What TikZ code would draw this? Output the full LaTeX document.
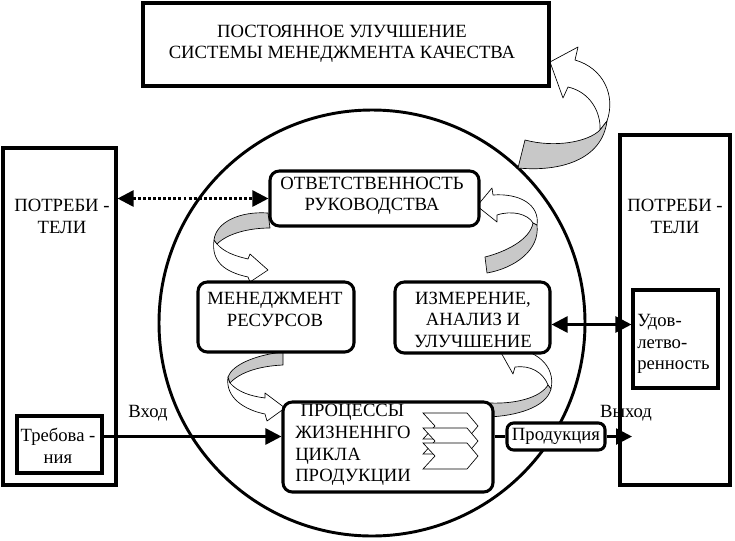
\documentclass[tikz,border=0pt]{standalone}
\usepackage{fontspec}
\setmainfont{Liberation Serif}
\usetikzlibrary{arrows.meta}
\definecolor{ribbon}{RGB}{200,200,200}
\begin{document}
\begin{tikzpicture}[x=0.75pt,y=-0.75pt,
  font=\fontsize{14}{16.2}\selectfont,
  box/.style={draw,line width=2.3pt,fill=white,inner sep=0pt},
  rbox/.style={box,rounded corners=7pt},
  txt/.style={inner sep=0pt,align=center},
  ltxt/.style={inner sep=0pt,align=left,anchor=west},
  ribW/.style={draw,line width=0.5pt,fill=white,line join=round},
  ribG/.style={draw,line width=0.5pt,fill=ribbon,line join=round},
  chev/.style={draw,line width=0.5pt,fill=white},
  conn/.style={line width=2pt},
  tri/.tip={Triangle[length=12pt,width=12pt]},
  dotline/.style={conn,dash pattern=on 2.2pt off 1.6pt}
]
\useasboundingbox (0,0) rectangle (735,540);

% big circle
\draw[line width=2.2pt] (372,323) circle [radius=213];

% ribbon arrows
% 1: to top box
\path[ribW] (600,130) .. controls (601,112) and (590,92) .. (568,87) -- (563,98) -- (550,62) -- (578,47) -- (575,60) .. controls (603,68) and (616,95) .. (607,121) -- cycle;
\path[ribG] (525,140) .. controls (555,148) and (588,142) .. (600,130) -- (607,121) .. controls (602,160) and (560,172) .. (518,168) -- cycle;
% 2: responsibility -> resources
\path[ribW] (217,244) .. controls (224,252) and (235,256) .. (248,259) -- (250,254) -- (268,270) -- (250,282) -- (248,277) .. controls (225,272) and (211,262) .. (214,240) -- cycle;
\path[ribG] (268,213) .. controls (240,211) and (216,222) .. (214,240) -- (217,244) .. controls (228,233) and (250,228) .. (270,228) -- cycle;
% 3: measurement -> responsibility
\path[ribW] (533,223) .. controls (528,214) and (512,210) .. (497,215) -- (497,222) -- (477,206) -- (492,188) -- (493,195) .. controls (520,193) and (540,205) .. (537,225) -- cycle;
\path[ribG] (485,257) .. controls (505,252) and (530,240) .. (533,223) -- (537,225) .. controls (540,250) and (515,268) .. (487,273) -- cycle;
% 4: resources -> processes
\path[ribW] (230,383) .. controls (238,392) and (250,396) .. (265,398) -- (265,393) -- (285,408) -- (267,421) -- (265,414) .. controls (245,410) and (225,398) .. (228,377) -- cycle;
\path[ribG] (283,352) .. controls (255,355) and (232,365) .. (228,377) -- (230,383) .. controls (240,372) and (260,366) .. (283,365) -- cycle;
% 5: processes -> measurement
\path[ribW] (548,385) .. controls (543,372) and (530,365) .. (515,367) -- (513,374) -- (499,349) -- (510,341) -- (512,348) .. controls (535,350) and (556,365) .. (551,389) -- cycle;
\path[ribG] (490,403) .. controls (515,404) and (540,398) .. (548,385) -- (551,389) .. controls (546,408) and (515,416) .. (488,417) -- cycle;

% boxes
\node[box,minimum width=304.5pt,minimum height=62.25pt] (impr) at (346,44.5) {};
\node[box,minimum width=84.75pt,minimum height=252.75pt] (custL) at (59.5,316.5) {};
\node[box,minimum width=82.5pt,minimum height=262.5pt] (custR) at (675,310) {};
\node[box,minimum width=63.75pt,minimum height=42.75pt] (req) at (59.5,444.5) {};
\node[box,minimum width=63.75pt,minimum height=73.5pt] (sat) at (675.5,339) {};
\node[rbox,minimum width=156.75pt,minimum height=41.25pt] (resp) at (374.5,198.5) {};
\node[rbox,minimum width=117pt,minimum height=52.5pt] (res) at (276,317) {};
\node[rbox,minimum width=116.25pt,minimum height=53.25pt] (meas) at (472.5,317.5) {};
\node[rbox,minimum width=157.5pt,minimum height=67.5pt] (proc) at (388,447) {};
\node[rbox,rounded corners=5pt,minimum width=73.5pt,minimum height=20.25pt] (prod) at (556,436.5) {};

% chevrons
\foreach \t in {413,428,443}{
  \path[chev] (423,\t) -- (467,\t) -- (478,\t+13) -- (467,\t+26) -- (423,\t+26) -- (435,\t+13) -- cycle;
}

% texts
\node[txt] (imprT) at (342,44) {ПОСТОЯННОЕ УЛУЧШЕНИЕ\\СИСТЕМЫ МЕНЕДЖМЕНТА КАЧЕСТВА};
\node[txt] (custLT) at (62,216.5) {ПОТРЕБИ -\\ТЕЛИ};
\node[txt] (custRT) at (675,216.5) {ПОТРЕБИ -\\ТЕЛИ};
\node[txt] (reqT) at (58,446) {Требова -\\ния};
\node[ltxt] (satT) at (637,344) {Удов-\\летво-\\ренность};
\node[txt] (respT) at (372,196) {ОТВЕТСТВЕННОСТЬ\\РУКОВОДСТВА};
\node[txt] (resT) at (275,309.5) {МЕНЕДЖМЕНТ\\РЕСУРСОВ};
\node[txt] (measT) at (473,319.5) {ИЗМЕРЕНИЕ,\\АНАЛИЗ И\\УЛУЧШЕНИЕ};
\node[ltxt] (procT) at (295,445) {\hspace*{4pt}ПРОЦЕССЫ\\ЖИЗНЕННГО\\ЦИКЛА\\ПРОДУКЦИИ};
\node[txt] (prodT) at (556,436.5) {Продукция};
\node[txt] (inT) at (148,413) {Вход};
\node[txt] (outT) at (626,413) {Выход};

% connectors
\draw[dotline,tri-tri] (resp.west -| custL.east) -- (resp.west);
\draw[conn,tri-tri] ([yshift=-5.25pt]meas.east) -- ([yshift=-5.25pt]meas.east -| sat.west);
\draw[conn,-tri] (req.east |- prod.west) -- (proc.west |- prod.west);
\draw[conn] (proc.east |- prod.west) -- (prod.west);
\coordinate (outTip) at (632,436.5);
\draw[conn,-tri] (prod.east) -- (outTip);
\end{tikzpicture}
\end{document}
